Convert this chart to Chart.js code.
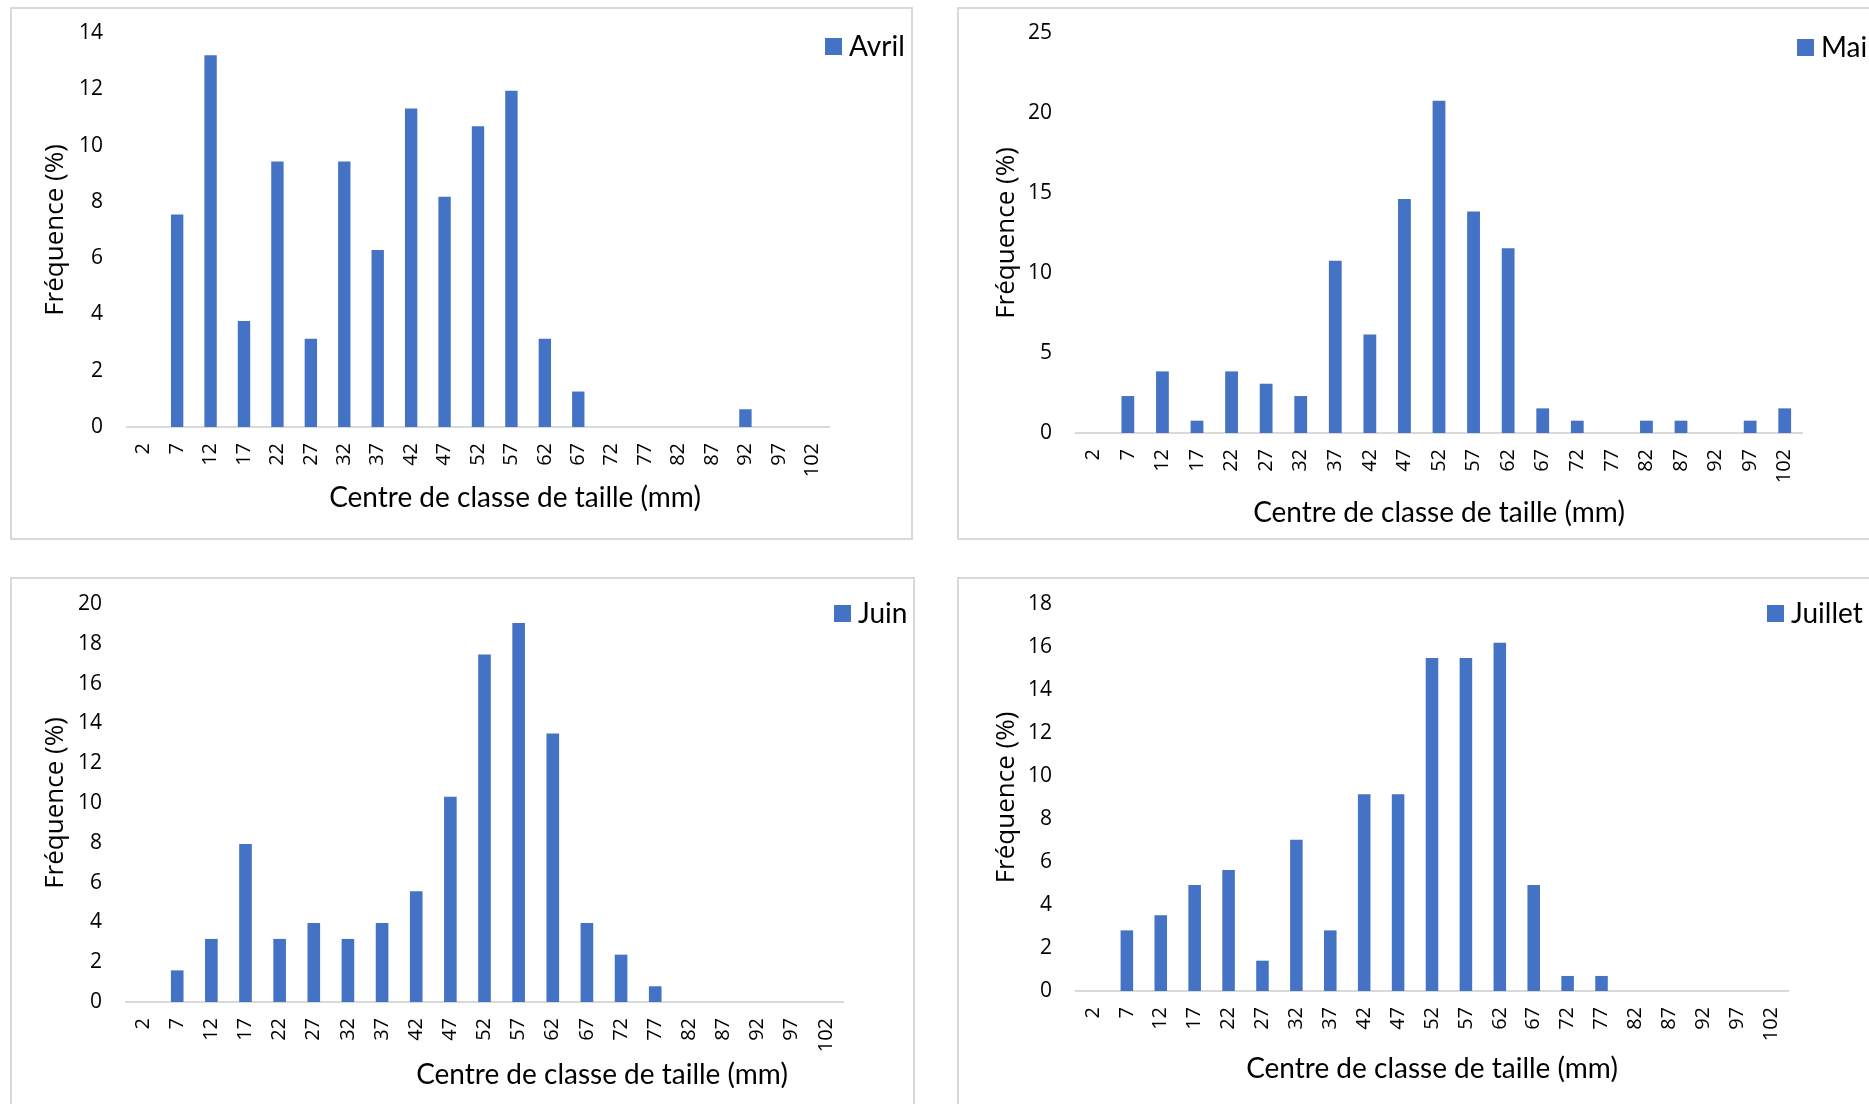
<!DOCTYPE html>
<html>
<head>
<meta charset="utf-8">
<script src="https://cdn.jsdelivr.net/npm/chart.js@4.4.0/dist/chart.umd.min.js"></script>
<style>
  body { margin: 0; width: 1869px; height: 1104px; overflow: hidden; background: #fff; position: relative; }
  .frame { position: absolute; border: 2px solid #d9d9d9; box-sizing: border-box; }
  canvas { position: absolute; }
</style>
</head>
<body>
<script>
// size class centres (mm)
const categories = ['2', '7', '12', '17', '22', '27', '32', '37', '42', '47', '52',
  '57', '62', '67', '72', '77', '82', '87', '92', '97', '102'];

// frequencies (%)
const avril = [0, 7.55, 13.21, 3.77, 9.43, 3.14, 9.43, 6.29, 11.32, 8.18, 10.69,
  11.95, 3.14, 1.26, 0, 0, 0, 0, 0.63, 0, 0];
const mai = [0, 2.31, 3.85, 0.77, 3.85, 3.08, 2.31, 10.77, 6.15, 14.62, 20.77,
  13.85, 11.54, 1.54, 0.77, 0, 0.77, 0.77, 0, 0.77, 1.54];
const juin = [0, 1.59, 3.17, 7.94, 3.17, 3.97, 3.17, 3.97, 5.56, 10.32, 17.46,
  19.05, 13.49, 3.97, 2.38, 0.79, 0, 0, 0, 0, 0];
const juillet = [0, 2.82, 3.52, 4.93, 5.63, 1.41, 7.04, 2.82, 9.15, 9.15, 15.49,
  15.49, 16.20, 4.93, 0.70, 0.70, 0, 0, 0, 0, 0];

const yTitle = 'Fréquence (%)';
const xTitle = 'Centre de classe de taille (mm)';

// page layout: frame box [x, y, w, h], plot area [left, top, right, bottom],
// x title centre, legend swatch corner
const panels = [
  { label: 'Avril', data: avril, max: 14, step: 2,
    box: [10, 7, 903, 533], plot: [127, 33, 829, 427], title: [515, 498], legend: [825, 38] },
  { label: 'Mai', data: mai, max: 25, step: 5,
    box: [957, 7, 940, 533], plot: [1076, 33, 1802, 433], title: [1439, 513], legend: [1797, 39] },
  { label: 'Juin', data: juin, max: 20, step: 2,
    box: [10, 577, 905, 560], plot: [126, 604, 843, 1002], title: [602, 1075], legend: [834, 605] },
  { label: 'Juillet', data: juillet, max: 18, step: 2,
    box: [957, 577, 940, 560], plot: [1076, 604, 1788, 991], title: [1432, 1069], legend: [1767, 605] }
];

const BAR = '#4472C4';
const TEXT = '#000';

// x title and legend drawn at fixed spots, like the Excel layout
const extras = {
  id: 'extras',
  afterDraw(chart, args, o) {
    const ctx = chart.ctx;
    const ds = chart.data.datasets[0];
    ctx.save();
    ctx.font = '28px Lato';
    ctx.fillStyle = TEXT;
    ctx.textAlign = 'center';
    ctx.textBaseline = 'middle';
    ctx.fillText(o.text, o.tx, o.ty);
    ctx.fillStyle = ds.backgroundColor;
    ctx.fillRect(o.lx, o.ly, 17, 17);
    ctx.fillStyle = TEXT;
    ctx.textAlign = 'left';
    ctx.fillText(ds.label, o.lx + 24, o.ly + 9);
    ctx.restore();
  }
};

panels.forEach((p, i) => {
  const [bx, by, bw, bh] = p.box;
  const frame = document.createElement('div');
  frame.className = 'frame';
  Object.assign(frame.style, { left: bx + 'px', top: by + 'px', width: bw + 'px', height: bh + 'px' });
  document.body.appendChild(frame);

  const cw = Math.min(bw, 1869 - bx);
  const ch = Math.min(bh, 1104 - by);
  const canvas = document.createElement('canvas');
  canvas.width = cw;
  canvas.height = ch;
  Object.assign(canvas.style, { left: bx + 'px', top: by + 'px', width: cw + 'px', height: ch + 'px' });
  document.body.appendChild(canvas);

  const left = p.plot[0] - bx, top = p.plot[1] - by;
  const right = p.plot[2] - bx, bottom = p.plot[3] - by;

  new Chart(canvas.getContext('2d'), {
    type: 'bar',
    data: {
      labels: categories,
      datasets: [{
        label: p.label,
        data: p.data,
        backgroundColor: BAR,
        barPercentage: 0.37,
        categoryPercentage: 1.0
      }]
    },
    options: {
      responsive: false,
      animation: false,
      devicePixelRatio: 1,
      layout: { padding: { left: 0, top: top, right: cw - right, bottom: 0 } },
      plugins: {
        legend: { display: false },
        tooltip: { enabled: false },
        extras: {
          text: xTitle,
          tx: p.title[0] - bx, ty: p.title[1] - by,
          lx: p.legend[0] - bx, ly: p.legend[1] - by
        }
      },
      scales: {
        x: {
          grid: { display: false, drawTicks: false },
          border: { display: true, color: '#d9d9d9', width: 2 },
          ticks: {
            autoSkip: false, minRotation: 90, maxRotation: 90, padding: 16,
            color: TEXT, font: { family: 'Open Sans', size: 20 }
          },
          afterFit: s => { s.height = ch - bottom; s.paddingLeft = 0; s.paddingRight = 0; }
        },
        y: {
          min: 0, max: p.max,
          grid: { display: false, drawTicks: false },
          border: { display: false },
          ticks: { stepSize: p.step, padding: 24, color: TEXT, font: { family: 'Open Sans', size: 21 } },
          title: {
            display: true, text: yTitle, color: TEXT,
            font: { family: 'Open Sans', size: 26 },
            padding: { top: 30 + (i % 2) * 4, bottom: 0 }
          },
          afterFit: s => { s.width = left; s.paddingTop = 0; s.paddingBottom = 0; }
        }
      }
    },
    plugins: [extras]
  });
});
</script>
</body>
</html>
